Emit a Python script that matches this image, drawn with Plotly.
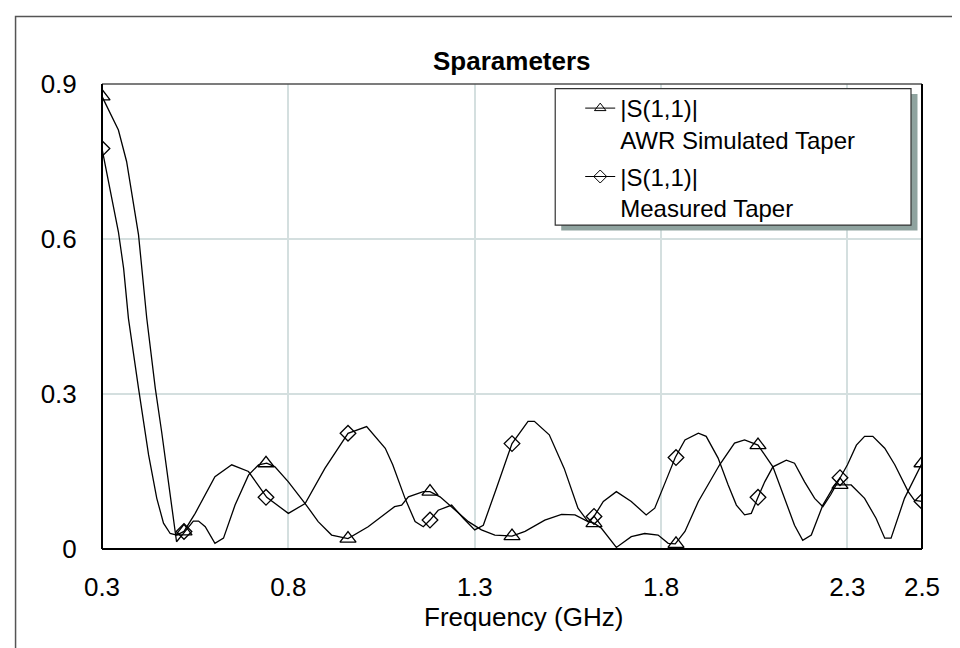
import plotly.graph_objects as go

# ---------------- data ----------------
sim_freq = [0.300, 0.344, 0.366, 0.398, 0.420, 0.443, 0.460, 0.478, 0.492, 0.500,
            0.523, 0.545, 0.559, 0.577, 0.603, 0.626, 0.657, 0.693, 0.720, 0.742,
            0.764, 0.800, 0.845, 0.880, 0.916, 0.960, 1.014, 1.068, 1.085, 1.104,
            1.122, 1.162, 1.180, 1.207, 1.247, 1.283, 1.318, 1.354, 1.400, 1.435,
            1.488, 1.533, 1.569, 1.604, 1.620, 1.640, 1.680, 1.720, 1.756, 1.792,
            1.819, 1.838, 1.864, 1.900, 1.957, 1.997, 2.024, 2.060, 2.100, 2.132,
            2.158, 2.180, 2.203, 2.234, 2.266, 2.280, 2.310, 2.346, 2.377, 2.400,
            2.417, 2.453, 2.500]
sim_val = [0.876, 0.811, 0.750, 0.608, 0.447, 0.311, 0.227, 0.130, 0.053, 0.014,
           0.034, 0.054, 0.054, 0.043, 0.011, 0.021, 0.085, 0.143, 0.163, 0.166,
           0.159, 0.130, 0.088, 0.053, 0.027, 0.020, 0.043, 0.072, 0.082, 0.085,
           0.101, 0.111, 0.111, 0.101, 0.075, 0.053, 0.037, 0.027, 0.025, 0.034,
           0.056, 0.067, 0.066, 0.053, 0.050, 0.040, 0.003, 0.024, 0.030, 0.027,
           0.011, 0.010, 0.034, 0.092, 0.163, 0.205, 0.211, 0.201, 0.159, 0.098,
           0.046, 0.017, 0.027, 0.085, 0.124, 0.124, 0.124, 0.098, 0.059, 0.021,
           0.021, 0.098, 0.166]

meas_freq = [0.300, 0.344, 0.358, 0.371, 0.398, 0.425, 0.447, 0.465, 0.483, 0.500,
             0.520, 0.550, 0.603, 0.648, 0.693, 0.742, 0.800, 0.845, 0.898, 0.960,
             1.010, 1.060, 1.080, 1.113, 1.140, 1.162, 1.180, 1.202, 1.238, 1.270,
             1.300, 1.323, 1.358, 1.400, 1.443, 1.460, 1.500, 1.540, 1.577, 1.604,
             1.620, 1.645, 1.680, 1.720, 1.760, 1.783, 1.819, 1.838, 1.864, 1.900,
             1.921, 1.953, 1.980, 2.002, 2.024, 2.042, 2.060, 2.078, 2.100, 2.136,
             2.158, 2.185, 2.212, 2.234, 2.255, 2.280, 2.300, 2.324, 2.346, 2.368,
             2.400, 2.427, 2.463, 2.480, 2.500]
meas_val = [0.775, 0.614, 0.543, 0.446, 0.311, 0.182, 0.098, 0.050, 0.030, 0.027,
            0.034, 0.069, 0.140, 0.163, 0.150, 0.100, 0.069, 0.088, 0.156, 0.224,
            0.237, 0.195, 0.163, 0.098, 0.053, 0.043, 0.056, 0.075, 0.085, 0.059,
            0.037, 0.046, 0.117, 0.204, 0.247, 0.247, 0.221, 0.156, 0.079, 0.053,
            0.063, 0.092, 0.111, 0.092, 0.066, 0.079, 0.143, 0.177, 0.211, 0.224,
            0.218, 0.176, 0.124, 0.085, 0.066, 0.069, 0.100, 0.130, 0.159, 0.172,
            0.166, 0.130, 0.098, 0.082, 0.105, 0.138, 0.163, 0.201, 0.218, 0.218,
            0.195, 0.163, 0.111, 0.094, 0.092]

marker_freq = [0.30, 0.52, 0.74, 0.96, 1.18, 1.40, 1.62, 1.84, 2.06, 2.28, 2.50]
sim_marker_val = [0.876, 0.034, 0.166, 0.020, 0.111, 0.025, 0.050, 0.010, 0.201, 0.124, 0.166]
meas_marker_val = [0.775, 0.034, 0.100, 0.224, 0.056, 0.204, 0.063, 0.177, 0.100, 0.138, 0.092]

x_ticks = [0.3, 0.8, 1.3, 1.8, 2.3, 2.5]
x_tick_text = ["0.3", "0.8", "1.3", "1.8", "2.3", "2.5"]
y_ticks = [0, 0.3, 0.6, 0.9]
y_tick_text = ["0", "0.3", "0.6", "0.9"]

sim_name = "|S(1,1)|<br>AWR Simulated Taper"
meas_name = "|S(1,1)|<br>Measured Taper"
title_text = "Sparameters"
x_title = "Frequency (GHz)"

# ---------------- layout geometry ----------------
W, H = 960, 648
L, R, T, B = 93.5, 914.0, 76.0, 540.7
FONT = "Arial, Liberation Sans, sans-serif"


def px(x):
    return (x - L) / (R - L)


def py(y):
    return (B - y) / (B - T)


fig = go.Figure()

line_style = dict(color="black", width=1.3)

fig.add_trace(go.Scatter(x=sim_freq, y=sim_val, mode="lines", line=line_style,
                         showlegend=False, hoverinfo="skip"))
fig.add_trace(go.Scatter(x=meas_freq, y=meas_val, mode="lines", line=line_style,
                         showlegend=False, hoverinfo="skip"))
fig.add_trace(go.Scatter(x=marker_freq, y=sim_marker_val, mode="markers",
                         marker=dict(symbol="triangle-up-open", size=14, color="black",
                                     line=dict(width=1.3)),
                         showlegend=False))
fig.add_trace(go.Scatter(x=marker_freq, y=meas_marker_val, mode="markers",
                         marker=dict(symbol="diamond-open", size=12, color="black",
                                     line=dict(width=1.3)),
                         showlegend=False))
# legend entries
fig.add_trace(go.Scatter(x=[None], y=[None], mode="lines+markers", name=sim_name,
                         legendgroup="a", line=dict(color="black", width=1),
                         marker=dict(symbol="triangle-up-open", size=10, color="black",
                                     line=dict(width=1))))
fig.add_trace(go.Scatter(x=[None], y=[None], mode="lines+markers", name=meas_name,
                         legendgroup="b", line=dict(color="black", width=1),
                         marker=dict(symbol="diamond-open", size=10, color="black",
                                     line=dict(width=1))))

shapes = [
    # outer border (left + top visible)
    dict(type="rect", xref="paper", yref="paper", x0=px(7), x1=px(980), y0=py(670), y1=py(8.5),
         line=dict(color="#555555", width=1.5), fillcolor="rgba(0,0,0,0)", layer="below"),
    # plot frame
    dict(type="line", xref="paper", yref="paper", x0=0, x1=1, y0=1, y1=1,
         line=dict(color="#505050", width=1.5), layer="above"),
    dict(type="line", xref="paper", yref="paper", x0=0, x1=0, y0=0, y1=1,
         line=dict(color="black", width=2), layer="above"),
    dict(type="line", xref="paper", yref="paper", x0=1, x1=1, y0=0, y1=1,
         line=dict(color="black", width=2), layer="above"),
    dict(type="line", xref="paper", yref="paper", x0=0, x1=1, y0=0, y1=0,
         line=dict(color="black", width=2), layer="above"),
    # legend shadow and box
    dict(type="rect", xref="paper", yref="paper", x0=px(553), x1=px(909.5), y0=py(222.5), y1=py(86),
         line=dict(width=0), fillcolor="#8fa39f", layer="above"),
    dict(type="rect", xref="paper", yref="paper", x0=px(547), x1=px(903), y0=py(217), y1=py(80.7),
         line=dict(color="#333333", width=1.2), fillcolor="white", layer="above"),
]

annotations = [
    dict(text="<b>%s</b>" % title_text, xref="paper", yref="paper", x=0.5, y=py(53),
         xanchor="center", yanchor="middle", showarrow=False,
         font=dict(family=FONT, size=26, color="black")),
    dict(text=x_title, xref="paper", yref="paper", x=px(515), y=py(609),
         xanchor="center", yanchor="middle", showarrow=False,
         font=dict(family=FONT, size=26, color="black")),
]

fig.update_layout(
    width=W, height=H, autosize=False,
    margin=dict(l=L, r=W - R, t=T, b=H - B, pad=0),
    paper_bgcolor="white", plot_bgcolor="white",
    font=dict(family=FONT, size=26, color="black"),
    shapes=shapes, annotations=annotations,
    showlegend=True,
    legend=dict(x=px(572), y=py(78), xanchor="left", yanchor="top",
                bgcolor="rgba(0,0,0,0)", borderwidth=0,
                font=dict(family=FONT, size=24, color="black"),
                tracegroupgap=3, valign="top",
                itemwidth=30),
    xaxis=dict(range=[0.3, 2.5], tickvals=x_ticks, ticktext=x_tick_text,
               showgrid=True, gridcolor="#d4dfdf", gridwidth=1.5,
               zeroline=False, showline=False,
               ticks="outside", ticklen=15, tickcolor="rgba(0,0,0,0)",
               tickfont=dict(family=FONT, size=26, color="black")),
    yaxis=dict(range=[0, 0.9], tickvals=y_ticks, ticktext=y_tick_text,
               showgrid=True, gridcolor="#d4dfdf", gridwidth=1.5,
               zeroline=False, showline=False,
               ticks="outside", ticklen=19, tickcolor="rgba(0,0,0,0)",
               tickfont=dict(family=FONT, size=26, color="black")),
)

fig.write_html("out.html")
